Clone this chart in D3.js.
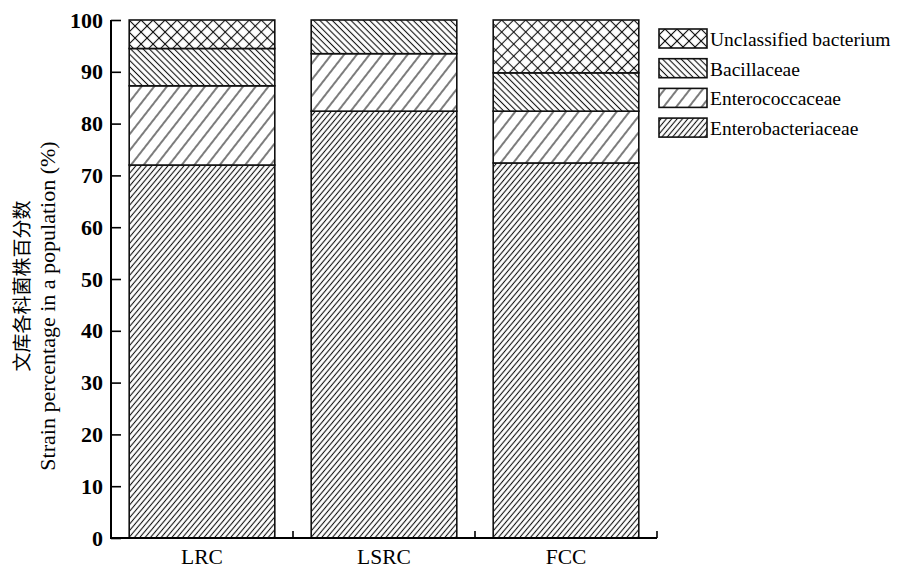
<!DOCTYPE html>
<html>
<head>
<meta charset="utf-8">
<script src="https://cdn.jsdelivr.net/npm/d3@7"></script>
<style>
  body { margin: 0; background: #fff; }
  text { font-family: "Liberation Serif", "Times New Roman", serif; fill: #000; }
</style>
</head>
<body>
<div id="chart"></div>
<script>
// data
var groups = ["LRC", "LSRC", "FCC"];
var families = ["Enterobacteriaceae", "Enterococcaceae", "Bacillaceae", "Unclassified bacterium"];
var enterobacteriaceae = [72.0, 82.4, 72.4];
var enterococcaceae = [15.3, 11.1, 10.0];
var bacillaceae = [7.2, 6.5, 7.4];
var unclassified = [5.5, 0, 10.2];
var yTicks = [0, 10, 20, 30, 40, 50, 60, 70, 80, 90, 100];

var svgWidth = 901;
var svgHeight = 569;
var margin = {top: 20, right: 244, bottom: 31, left: 111};
var width = svgWidth - margin.left - margin.right;
var height = svgHeight - margin.top - margin.bottom;

var svg = d3.select("#chart")
  .append("svg")
  .attr("width", svgWidth)
  .attr("height", svgHeight);

// hatch patterns
var defs = svg.append("defs");
function hatch(id, gap, angle, cross) {
  var p = defs.append("pattern")
    .attr("id", id)
    .attr("patternUnits", "userSpaceOnUse")
    .attr("width", gap)
    .attr("height", gap)
    .attr("patternTransform", "rotate(" + angle + ")");
  p.append("rect").attr("width", gap).attr("height", gap).attr("fill", "#fff");
  p.append("line")
    .attr("x1", gap / 2).attr("y1", 0).attr("x2", gap / 2).attr("y2", gap)
    .attr("stroke", "#111").attr("stroke-width", 1.1);
  if (cross) {
    p.append("line")
      .attr("x1", 0).attr("y1", gap / 2).attr("x2", gap).attr("y2", gap / 2)
      .attr("stroke", "#111").attr("stroke-width", 1.1);
  }
}
hatch("p0", 4.1, 40, false);
hatch("p1", 10, 38, false);
hatch("p2", 4.4, -45, false);
hatch("p3", 8.5, 45, true);
var fills = ["url(#p0)", "url(#p1)", "url(#p2)", "url(#p3)"];

var chartGroup = svg.append("g")
  .attr("transform", `translate(${margin.left}, ${margin.top})`);

var xScale = d3.scaleBand()
  .domain(groups)
  .range([0, width])
  .paddingInner(0.2)
  .paddingOuter(0.1);

var yScale = d3.scaleLinear()
  .domain([0, 100])
  .range([height, 0]);

// stack the series
var table = groups.map(function (g, i) {
  return {
    group: g,
    "Enterobacteriaceae": enterobacteriaceae[i],
    "Enterococcaceae": enterococcaceae[i],
    "Bacillaceae": bacillaceae[i],
    "Unclassified bacterium": unclassified[i]
  };
});
var stacked = d3.stack().keys(families)(table);

var layers = chartGroup.selectAll(".layer")
  .data(stacked)
  .enter()
  .append("g")
  .attr("fill", (d, i) => fills[i]);

layers.selectAll("rect")
  .data(d => d.filter(s => s[1] - s[0] > 0))
  .enter()
  .append("rect")
  .attr("x", d => xScale(d.data.group))
  .attr("y", d => yScale(d[1]))
  .attr("width", xScale.bandwidth())
  .attr("height", d => yScale(d[0]) - yScale(d[1]))
  .attr("stroke", "#111")
  .attr("stroke-width", 1.6);

// y axis, ticks pointing inward
var leftAxis = d3.axisRight(yScale)
  .tickValues(yTicks)
  .tickSize(10)
  .tickFormat(d3.format("d"));
var yAxis = chartGroup.append("g").call(leftAxis);
yAxis.select(".domain").attr("d", `M0,${height + 1}V0`).attr("stroke-width", 2).attr("stroke", "#000");
yAxis.selectAll(".tick line").attr("stroke-width", 1.6).attr("stroke", "#000");
yAxis.selectAll(".tick text")
  .attr("x", -8)
  .attr("text-anchor", "end")
  .attr("font-size", 22)
  .attr("font-weight", "bold")
  .attr("font-family", "Liberation Serif, serif");

// x axis with ticks between categories
var xAxis = chartGroup.append("g")
  .attr("transform", `translate(0, ${height})`);
xAxis.append("line")
  .attr("x1", -1).attr("x2", width)
  .attr("y1", 0).attr("y2", 0)
  .attr("stroke", "#000").attr("stroke-width", 2);
xAxis.selectAll(".sep")
  .data(groups)
  .enter()
  .append("line")
  .attr("x1", d => xScale(d) + xScale.bandwidth() + xScale.step() * 0.1)
  .attr("x2", d => xScale(d) + xScale.bandwidth() + xScale.step() * 0.1)
  .attr("y1", 0).attr("y2", -7)
  .attr("stroke", "#000").attr("stroke-width", 1.6);
xAxis.selectAll(".cat")
  .data(groups)
  .enter()
  .append("text")
  .attr("x", d => xScale(d) + xScale.bandwidth() / 2)
  .attr("y", 26)
  .attr("text-anchor", "middle")
  .attr("font-size", 21.5)
  .text(d => d);

// y axis titles
svg.append("text")
  .attr("transform", "translate(29, 286) rotate(-90)")
  .attr("text-anchor", "middle")
  .attr("font-size", 19)
  .style("font-family", "'Noto Sans CJK SC', sans-serif")
  .text("文库各科菌株百分数");
svg.append("text")
  .attr("transform", "translate(55, 306) rotate(-90)")
  .attr("text-anchor", "middle")
  .attr("font-size", 22)
  .text("Strain percentage in a population (%)");

// legend
var legend = svg.append("g")
  .attr("transform", "translate(659, 29)");
var legendItems = families.slice().reverse();
var legendRow = legend.selectAll(".row")
  .data(legendItems)
  .enter()
  .append("g")
  .attr("transform", (d, i) => `translate(0, ${i * 29.7})`);
legendRow.append("rect")
  .attr("width", 48)
  .attr("height", 19)
  .attr("fill", d => fills[families.indexOf(d)])
  .attr("stroke", "#111")
  .attr("stroke-width", 1.6);
legendRow.append("text")
  .attr("x", 51)
  .attr("y", 17)
  .attr("font-size", 19.5)
  .text(d => d);
</script>
</body>
</html>
